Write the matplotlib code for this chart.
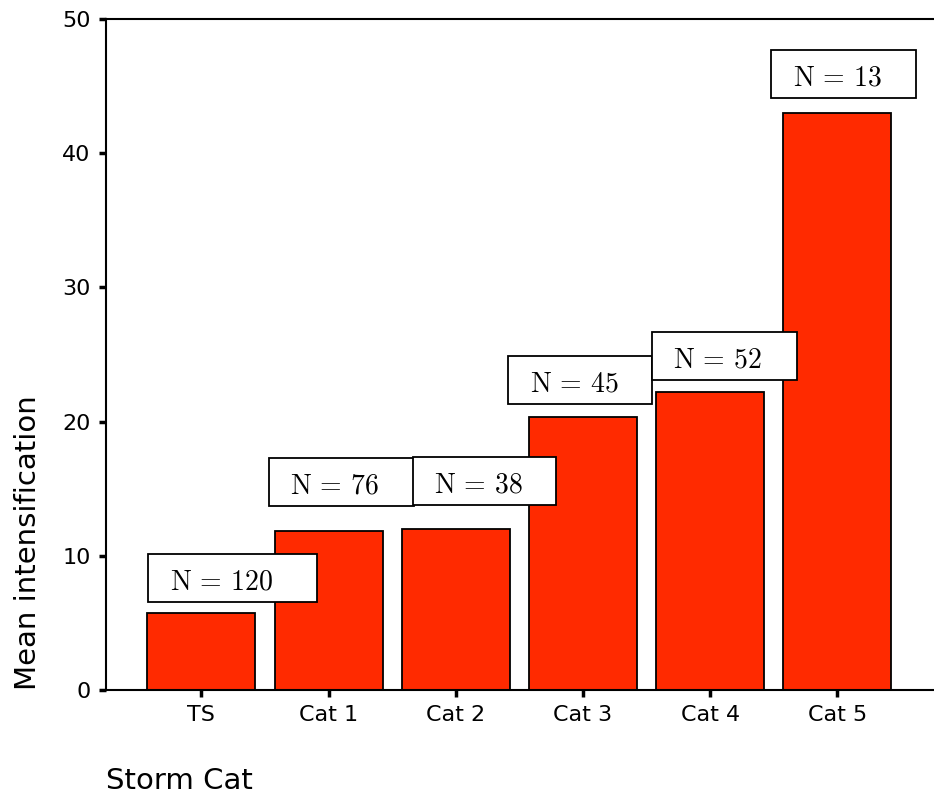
import matplotlib
matplotlib.use("Agg")
import matplotlib.pyplot as plt
from matplotlib.patches import Rectangle

categories = ["TS", "Cat 1", "Cat 2", "Cat 3", "Cat 4", "Cat 5"]
mean_intensification = [5.75, 11.85, 12.0, 20.35, 22.2, 43.0]
counts = [120, 76, 38, 45, 52, 13]

# where each N box sits, relative to its bar (x: from bar centre, y: above bar top)
box_dx = [-0.42, -0.47, -0.34, -0.59, -0.46, -0.52]
box_dy = [0.82, 1.86, 1.79, 0.97, 0.90, 1.10]
box_w = [1.33, 1.14, 1.13, 1.13, 1.14, 1.14]
box_h = 3.6

plt.rcParams['mathtext.fontset'] = 'cm'
plt.rcParams['font.family'] = 'DejaVu Sans'

fig = plt.figure(figsize=(9.34, 7.95), dpi=100)
ax = fig.add_axes([0.1135, 0.132, 0.8865, 0.844])

x = list(range(len(categories)))
ax.bar(x, mean_intensification, width=0.85, color='#ff2a00', edgecolor='black',
       linewidth=1.3, zorder=2)

for i in x:
    bx = i + box_dx[i]
    by = mean_intensification[i] + box_dy[i]
    ax.add_patch(Rectangle((bx, by), box_w[i], box_h, facecolor='white',
                           edgecolor='black', linewidth=1.3, zorder=3))
    ax.text(bx + 0.17, by + box_h / 2 - 0.25, r'$\mathrm{N}\,=\,%d$' % counts[i],
            fontsize=20, ha='left', va='center', zorder=4)

ax.set_xlim(-0.75, 5.76)
ax.set_ylim(0, 50)
ax.set_xticks(x)
ax.set_xticklabels(categories)
ax.set_yticks(range(0, 51, 10))

for side in ['left', 'bottom', 'top']:
    ax.spines[side].set_linewidth(1.5)
ax.spines['right'].set_visible(False)
ax.tick_params(axis='both', direction='out', length=5, width=2.5, labelsize=16, pad=6)

fig.text(0.03, 1 - 690 / 795, 'Mean intensification', rotation=90, fontsize=21,
         ha='center', va='bottom')
fig.text(0.1135, 1 - 781 / 795, 'Storm Cat', fontsize=21, ha='left', va='center')

fig.savefig('out.png', dpi=100)
